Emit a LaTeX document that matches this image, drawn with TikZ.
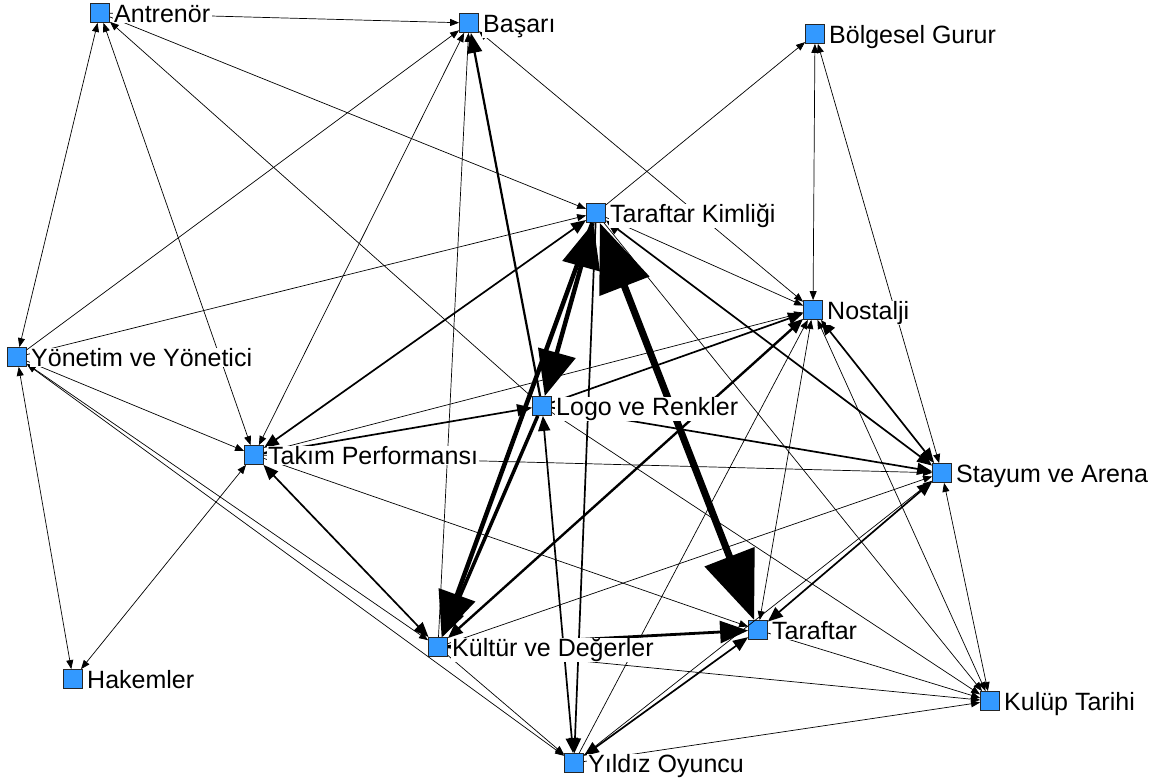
\documentclass[tikz,border=0pt]{standalone}
\usepackage{fontspec}
\setmainfont{Liberation Sans}
\usetikzlibrary{arrows.meta}
\definecolor{nodeblue}{RGB}{51,153,255}
\begin{document}
\begin{tikzpicture}[x=1pt,y=-1pt,
  sq/.style={draw=black!85, fill=nodeblue, minimum size=19pt, inner sep=0pt, line width=0.8pt},
  lab/.style={fill=white, anchor=base west, inner xsep=1.5pt, inner ysep=0.5pt, font=\fontsize{25}{30}\selectfont, text=black},
  e1/.style={line width=0.7pt, >={Triangle[length=9pt,width=7pt]}},
  e2/.style={line width=1.7pt, >={Triangle[length=15pt,width=12pt]}},
  e3/.style={line width=2.8pt, >={Triangle[length=28pt,width=22pt]}},
  e4/.style={line width=4.5pt, >={Triangle[length=45pt,width=38pt]}},
  e5/.style={line width=7pt, >={Triangle[length=68pt,width=52pt]}}
]
\useasboundingbox[fill=white] (0,0) rectangle (1160,783);

\node[sq] (A)  at (100,13)  {};
\node[sq] (B)  at (469,23)  {};
\node[sq] (BG) at (815,34)  {};
\node[sq] (TK) at (596,213) {};
\node[sq] (N)  at (813,310) {};
\node[sq] (Y)  at (17,357)  {};
\node[sq] (L)  at (542,406) {};
\node[sq] (TP) at (254,455) {};
\node[sq] (S)  at (942,473) {};
\node[sq] (K)  at (438,647) {};
\node[sq] (T)  at (758,630) {};
\node[sq] (H)  at (73,679)  {};
\node[sq] (KT) at (990,701) {};
\node[sq] (YO) at (574,763) {};

% thin ties
\draw[e1,->]  (A) -- (B);
\draw[e1,<->] (A) -- (Y);
\draw[e1,<->] (A) -- (TP);
\draw[e1,->]  (L) -- (A);
\draw[e1,->]  (A) -- (TK);
\draw[e1,->]  (Y) -- (B);
\draw[e1,->]  (Y) -- (TK);
\draw[e1,->]  (Y) -- (TP);
\draw[e1,<->] (Y) -- (H);
\draw[e1,<->] (Y) -- (K);
\draw[e1,<->] (Y) -- (YO);
\draw[e1,<->] (TP) -- (B);
\draw[e1,->]  (K) -- (B);
\draw[e1,<->] (B) -- (N);
\draw[e1,->]  (TK) -- (BG);
\draw[e1,<->] (BG) -- (N);
\draw[e1,<->] (BG) -- (S);
\draw[e1,->]  (TK) -- (N);
\draw[e1,->]  (TK) -- (KT);
\draw[e1,->]  (TP) -- (N);
\draw[e1,->]  (TP) -- (S);
\draw[e1,->]  (TP) -- (T);
\draw[e1,<->] (H) -- (TP);
\draw[e1,->]  (YO) -- (N);
\draw[e1,<->] (T) -- (N);
\draw[e1,<->] (KT) -- (N);
\draw[e1,<->] (KT) -- (S);
\draw[e1,->]  (K) -- (S);
\draw[e1,->]  (YO) -- (S);
\draw[e1,->]  (L) -- (KT);
\draw[e1,->]  (T) -- (KT);
\draw[e1,->]  (K) -- (KT);
\draw[e1,->]  (YO) -- (KT);
\draw[e1,->]  (K) -- (YO);

% medium ties
\draw[e2,<->] (TP) -- (TK);
\draw[e2,->]  (TP) -- (L);
\draw[e2,<->] (TP) -- (K);
\draw[e2,line width=2.2pt,>={Triangle[length=20pt,width=15pt]},->] (L) -- (B);
\draw[e2,<->] (TK) -- (S);
\draw[e2,<->] (N) -- (S);
\draw[e2,<->] (T) -- (S);
\draw[e2,<->] (YO) -- (T);
\draw[e2,<->] (L) -- (YO);
\draw[e2,->]  (TK) -- (YO);
\draw[e2,->]  (L) -- (N);
\draw[e2,line width=2.4pt,<->] (K) -- (N);
\draw[e2,->]  (L) -- (S);
\draw[e3,->]  (K) -- (T);

% heavy ties
\draw[e5,<->] (TK) -- (T);
\draw[e4,<->] (TK) -- (L);
\draw[e4,->]  (TK) -- (K);
\draw[e3,line width=3.5pt,->]  (L) -- (K);

% labels
\node[lab] (lA)  at (112.5,22.5)  {Antrenör};
\node[lab] (lB)  at (481.5,32.5)  {Başarı};
\node[lab] (lBG) at (827.5,43.5)  {Bölgesel Gurur};
\node[lab] (lTK) at (608.5,222.5) {Taraftar Kimliği};
\node[lab] (lN)  at (825.5,319.5) {Nostalji};
\node[lab] (lY)  at (29.5,366.5)  {Yönetim ve Yönetici};
\node[lab] (lL)  at (554.5,415.5) {Logo ve Renkler};
\node[lab] (lTP) at (266.5,464.5) {Takım Performansı};
\node[lab] (lS)  at (954.5,482.5) {Stayum ve Arena};
\node[lab] (lK)  at (450.5,656.5) {Kültür ve Değerler};
\node[lab] (lT)  at (770.5,639.5) {Taraftar};
\node[lab] (lH)  at (85.5,688.5)  {Hakemler};
\node[lab] (lKT) at (1002.5,710.5) {Kulüp Tarihi};
\node[lab] (lYO) at (586.5,772.5) {Yıldız Oyuncu};
\end{tikzpicture}
\end{document}
